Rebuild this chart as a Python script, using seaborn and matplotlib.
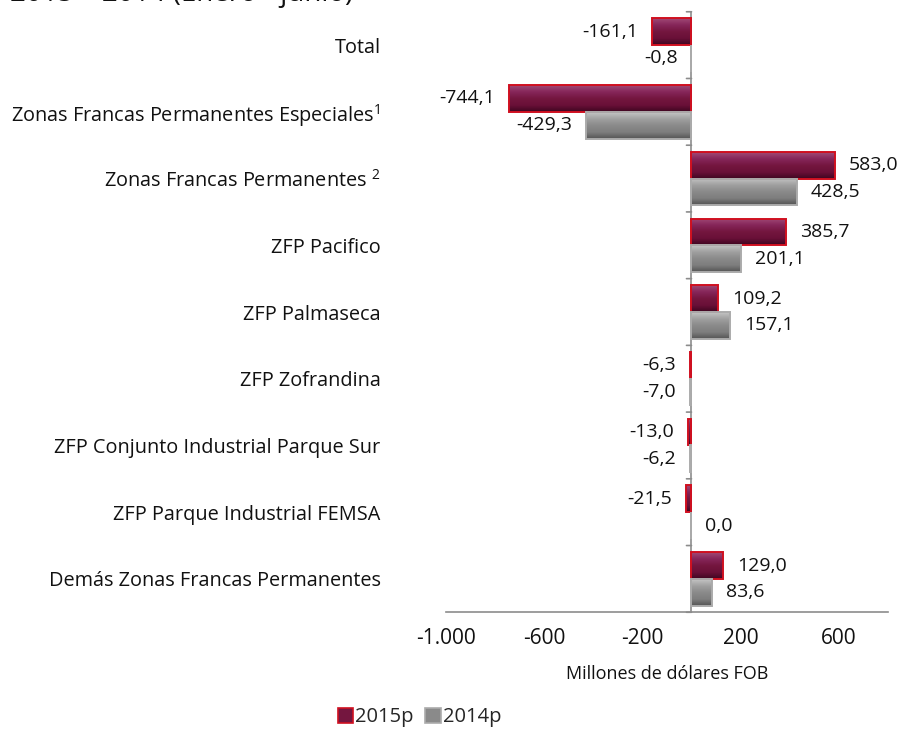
import matplotlib
matplotlib.use("Agg")
import matplotlib.pyplot as plt
import seaborn as sns
import pandas as pd
import numpy as np
from matplotlib.patches import Patch
from matplotlib.colors import LinearSegmentedColormap

categories = [
    "Total",
    "Zonas Francas Permanentes Especiales$^{1}$",
    "Zonas Francas Permanentes $^{2}$",
    "ZFP Pacifico",
    "ZFP Palmaseca",
    "ZFP Zofrandina",
    "ZFP Conjunto Industrial Parque Sur",
    "ZFP Parque Industrial FEMSA",
    "Demás Zonas Francas Permanentes",
]
series_names = ["2015p", "2014p"]
values_2015 = [-161.1, -744.1, 583.0, 385.7, 109.2, -6.3, -13.0, -21.5, 129.0]
values_2014 = [-0.8, -429.3, 428.5, 201.1, 157.1, -7.0, -6.2, 0.0, 83.6]
x_ticks = [-1000, -600, -200, 200, 600]
x_tick_labels = ["-1.000", "-600", "-200", "200", "600"]
title = "2015 \u2013 2014 (Enero - junio)"
x_label = "Millones de dólares FOB"

df = pd.DataFrame({
    "categoria": categories * 2,
    "serie": [series_names[0]] * len(categories) + [series_names[1]] * len(categories),
    "valor": values_2015 + values_2014,
})

sns.set_theme(style="white")
plt.rcParams["font.family"] = ["Open Sans", "DejaVu Sans"]
plt.rcParams["mathtext.fontset"] = "custom"
plt.rcParams["mathtext.rm"] = "Open Sans"
plt.rcParams["mathtext.it"] = "Open Sans"
plt.rcParams["mathtext.bf"] = "Open Sans"
plt.rcParams["mathtext.default"] = "rm"

face_colors = {"2015p": "#74163F", "2014p": "#8A8A8A"}
edge_colors = {"2015p": "#D01020", "2014p": "#ABABAB"}
bevel_colors = {
    "2015p": ["#A14A76", "#86265A", "#74163F", "#6A1038", "#3E0620"],
    "2014p": ["#C4C4C4", "#A0A0A0", "#8A8A8A", "#7E7E7E", "#555555"],
}
text_color = "#111111"

fig = plt.figure(figsize=(9.08, 7.35), dpi=100)
ax = fig.add_axes([0.491, 0.167, 0.487, 0.817])

sns.barplot(data=df, y="categoria", x="valor", hue="serie", orient="h",
            palette=face_colors, width=0.8, ax=ax, legend=False,
            order=categories, hue_order=series_names)

grad = np.linspace(0, 1, 64).reshape(-1, 1)
for cont, name in zip(ax.containers, series_names):
    cmap = LinearSegmentedColormap.from_list(name, bevel_colors[name])
    for p in cont.patches:
        p.set_edgecolor(edge_colors[name])
        p.set_linewidth(1.4)
        x0, y0, w, h = p.get_x(), p.get_y(), p.get_width(), p.get_height()
        if abs(w) > 0:
            im = ax.imshow(grad, cmap=cmap, aspect="auto", origin="upper",
                           extent=(min(x0, x0 + w), max(x0, x0 + w), y0 + h, y0),
                           zorder=1.5, interpolation="bilinear")
            im.set_clip_path(p)
        p.set_facecolor("none")
        p.set_zorder(2)
    vals = values_2015 if name == "2015p" else values_2014
    labels = [f"{v:.1f}".replace(".", ",") for v in vals]
    ax.bar_label(cont, labels=labels, padding=10, fontsize=14, color=text_color)

ax.set_xlim(-1000, 800)
ax.set_ylim(len(categories) - 0.5, -0.5)
ax.set_aspect("auto")
ax.set_xticks(x_ticks)
ax.set_xticklabels(x_tick_labels, fontsize=15, color=text_color)
ax.set_xlabel(x_label, fontsize=13, labelpad=12, color=text_color)
ax.set_ylabel("")
ax.tick_params(axis="y", length=0, pad=47, labelsize=14.3, labelcolor=text_color)
ax.tick_params(axis="x", direction="in", length=5, width=1, color="#8C8C8C", pad=11)

for s in ["top", "right", "left"]:
    ax.spines[s].set_visible(False)
ax.spines["bottom"].set_color("#8C8C8C")
ax.spines["bottom"].set_linewidth(1.2)

# vertical axis line at zero with boundary ticks
ax.axvline(0, color="#8C8C8C", lw=1.2, zorder=0.5)
for b in range(len(categories) + 1):
    yb = b - 0.5
    ax.annotate("", xy=(0, yb), xytext=(-5, 0), textcoords="offset pixels",
                xycoords="data",
                arrowprops=dict(arrowstyle="-", color="#8C8C8C", lw=1.2,
                                shrinkA=0, shrinkB=0))

fig.text(0.011, 1 - 1.0 / 735, title, fontsize=20, va="baseline", ha="left", color=text_color)

handles = [Patch(facecolor=face_colors[n], edgecolor=edge_colors[n], lw=1.2) for n in series_names]
fig.legend(handles, series_names, loc="center left", bbox_to_anchor=(0.372, 0.024),
           ncol=2, frameon=False, fontsize=14.5, handlelength=0.75, handleheight=0.75,
           handletextpad=0.1, columnspacing=0.6, borderpad=0, borderaxespad=0)

fig.savefig("out.png", dpi=100)
